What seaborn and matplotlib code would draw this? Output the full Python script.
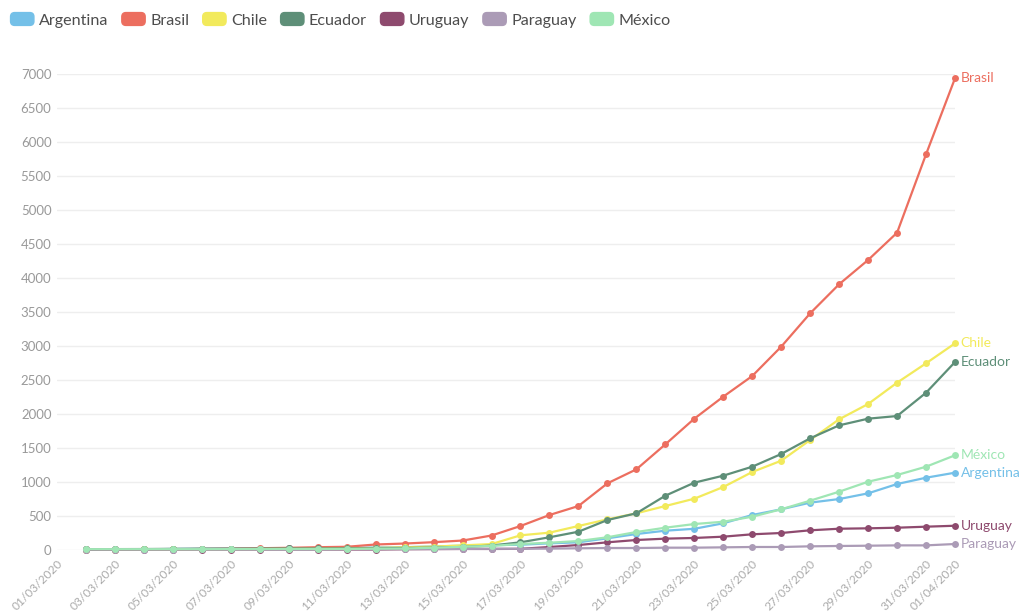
import matplotlib
matplotlib.use("Agg")
import matplotlib.pyplot as plt
import matplotlib.patches as mpatches
from matplotlib.legend_handler import HandlerPatch
import seaborn as sns
import pandas as pd

# Casos confirmados acumulados, del 02/03/2020 al 01/04/2020 (31 dias)
fechas = pd.date_range("2020-03-02", "2020-04-01", freq="D")

argentina = [1, 1, 2, 8, 9, 12, 12, 17, 19, 21, 31, 34, 45, 56, 65,
             70, 91, 106, 165, 228, 277, 305, 386, 508, 592, 690, 743, 827, 964, 1057, 1131]
brasil = [1, 2, 2, 3, 8, 13, 19, 25, 34, 40, 74, 88, 108, 132, 206,
          346, 508, 640, 974, 1180, 1548, 1926, 2250, 2554, 2986, 3477, 3905, 4262, 4664, 5818, 6937]
chile = [0, 0, 1, 1, 4, 5, 7, 10, 13, 17, 23, 33, 43, 61, 80,
         209, 248, 346, 444, 533, 640, 748, 920, 1141, 1307, 1612, 1917, 2142, 2456, 2741, 3035]
ecuador = [1, 6, 7, 10, 13, 13, 14, 15, 15, 17, 17, 23, 28, 37, 58,
           106, 180, 262, 434, 533, 792, 984, 1087, 1219, 1406, 1637, 1828, 1926, 1965, 2308, 2760]
uruguay = [0, 0, 0, 0, 0, 0, 0, 0, 0, 0, 0, 4, 6, 8, 8,
           10, 37, 66, 106, 140, 160, 170, 189, 224, 243, 283, 306, 312, 321, 336, 350]
paraguay = [0, 0, 0, 0, 1, 1, 1, 1, 1, 5, 6, 7, 8, 9, 11,
            11, 13, 18, 22, 22, 27, 27, 32, 37, 37, 47, 52, 56, 61, 61, 81]
mexico = [5, 5, 5, 5, 5, 6, 7, 7, 7, 8, 12, 15, 26, 41, 53,
          81, 100, 125, 180, 258, 321, 375, 409, 483, 592, 719, 851, 998, 1097, 1219, 1387]

paises = ["Argentina", "Brasil", "Chile", "Ecuador", "Uruguay", "Paraguay", "México"]
series = [argentina, brasil, chile, ecuador, uruguay, paraguay, mexico]
colores = ["#74c0e8", "#ec6e5f", "#f2ea5c", "#5e8f78", "#8e4a6e", "#ab9bb6", "#9fe6b4"]

tick_labels = ["01/03/2020", "03/03/2020", "05/03/2020", "07/03/2020", "09/03/2020",
               "11/03/2020", "13/03/2020", "15/03/2020", "17/03/2020", "19/03/2020",
               "21/03/2020", "23/03/2020", "25/03/2020", "27/03/2020", "29/03/2020",
               "31/03/2020", "01/04/2020"]

df = pd.concat(
    [pd.DataFrame({"fecha": fechas, "pais": p, "casos": v}) for p, v in zip(paises, series)],
    ignore_index=True,
)

sns.set_theme(style="white")
plt.rcParams["font.family"] = ["Lato", "DejaVu Sans"]

fig = plt.figure(figsize=(10.29, 6.12), dpi=100)
ax = fig.add_axes([0.0554, 0.1021, 0.8727, 0.777])

sns.lineplot(data=df, x="fecha", y="casos", hue="pais", hue_order=paises,
             palette=colores, marker="o", markersize=5, markeredgewidth=0,
             linewidth=1.6, legend=False, ax=ax)
for ln in ax.lines:
    ln.set_clip_on(False)

ax.set_ylim(0, 7000)
ax.set_yticks(range(0, 7001, 500))
ax.set_xlim(pd.Timestamp("2020-03-01"), pd.Timestamp("2020-04-01"))
ax.set_xticks(pd.to_datetime(tick_labels, format="%d/%m/%Y"))
ax.set_xticklabels(tick_labels, rotation=45, ha="right", rotation_mode="anchor")
ax.set_xlabel("")
ax.set_ylabel("")
ax.grid(axis="y", color="#eeeeee", linewidth=1)
ax.grid(axis="x", visible=False)
ax.set_axisbelow(True)
for s in ax.spines.values():
    s.set_visible(False)
ax.tick_params(axis="y", length=0, pad=4, labelsize=9.5, labelcolor="#999999")
ax.tick_params(axis="x", length=4, color="#dddddd", pad=2, labelsize=8.6, labelcolor="#aaaaaa")

# etiqueta al final de cada linea
for p, v, c in zip(paises, series, colores):
    ax.annotate(p, xy=(fechas[-1], v[-1]), xytext=(4, 0), textcoords="offset points",
                va="center", ha="left", color=c, fontsize=10, annotation_clip=False)


def caja_redondeada(legend, orig_handle, xdescent, ydescent, width, height, fontsize):
    return mpatches.FancyBboxPatch((-xdescent, -ydescent), width, height,
                                   boxstyle="round,pad=0,rounding_size=3")


handles = [mpatches.Patch(color=c, label=p) for p, c in zip(paises, colores)]
leg = fig.legend(handles=handles, loc="upper left", bbox_to_anchor=(0.004, 0.99),
                 borderaxespad=0, ncol=7, frameon=False, fontsize=11.6,
                 handlelength=1.45, handleheight=0.85, handletextpad=0.3,
                 columnspacing=0.85,
                 handler_map={mpatches.Patch: HandlerPatch(patch_func=caja_redondeada)})
for t in leg.get_texts():
    t.set_color("#4d4d4d")

fig.savefig("out.png", dpi=100)
